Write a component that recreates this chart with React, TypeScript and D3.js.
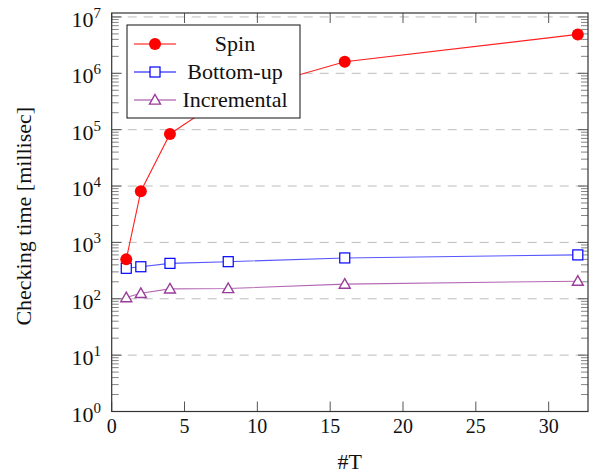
import * as d3 from 'd3';
import React from 'react';

const threads = [1, 2, 4, 8, 16, 32];
const spin = [500, 8100, 84000, 410000, 1600000, 4900000];
const bottomUp = [347, 370, 425, 455, 530, 600];
const incremental = [105, 125, 150, 152, 182, 205];

const xTicks = [0, 5, 10, 15, 20, 25, 30];
const yDecades = [0, 1, 2, 3, 4, 5, 6, 7];

const W = 590;
const H = 476;
const FONT = "'Liberation Serif', 'Times New Roman', Times, serif";

export default function App() {
  const x = d3.scaleLinear().domain([0, 32.7]).range([111.7, 588]);
  const y = d3.scaleLog().domain([1, Math.pow(10, 7.07)]).range([411.5, 13]);
  const [x0, x1] = x.range();
  const [yb, yt] = y.range();

  const line = d3.line<[number, number]>()
    .x((d) => x(d[0]))
    .y((d) => y(d[1]));
  const pts = (vals: number[]) => threads.map((t, i) => [t, vals[i]] as [number, number]);

  const minors: number[] = [];
  yDecades.slice(0, -1).forEach((n) => {
    for (let k = 2; k <= 9; k++) minors.push(k * Math.pow(10, n));
  });

  const tri = (cx: number, cy: number, s = 5.5) =>
    `M${cx},${cy - s} L${cx + s},${cy + s * 0.75} L${cx - s},${cy + s * 0.75} Z`;

  const legendRows = [
    { name: 'Spin', kind: 'circle', color: '#ff0000' },
    { name: 'Bottom-up', kind: 'square', color: '#0000ff' },
    { name: 'Incremental', kind: 'tri', color: '#9a3c9a' },
  ];

  const marker = (kind: string, cx: number, cy: number, key?: number) => {
    if (kind === 'circle') return <circle key={key} cx={cx} cy={cy} r={6} fill="#ff0000" />;
    if (kind === 'square')
      return <rect key={key} x={cx - 5} y={cy - 5} width={10} height={10} fill="white" stroke="#0000ff" strokeWidth={1.2} />;
    return <path key={key} d={tri(cx, cy)} fill="white" stroke="#9a3c9a" strokeWidth={1.4} />;
  };

  return (
    <svg width={W} height={H} style={{ position: 'absolute', left: 0, top: 0, background: 'white', fontFamily: FONT }}>
      {/* grid */}
      {yDecades.slice(1).map((n) => (
        <line key={n} x1={x0} x2={x1} y1={y(Math.pow(10, n))} y2={y(Math.pow(10, n))}
          stroke="#bdbdbd" strokeDasharray="9 7" strokeWidth={1} />
      ))}

      {/* minor y ticks */}
      {minors.map((v) => (
        <g key={v} stroke="#666" strokeWidth={0.8}>
          <line x1={x0} x2={x0 + 7} y1={y(v)} y2={y(v)} />
          <line x1={x1} x2={x1 - 7} y1={y(v)} y2={y(v)} />
        </g>
      ))}
      {yDecades.map((n) => (
        <g key={n} stroke="#555" strokeWidth={1}>
          <line x1={x0} x2={x0 + 10} y1={y(Math.pow(10, n))} y2={y(Math.pow(10, n))} />
          <line x1={x1} x2={x1 - 10} y1={y(Math.pow(10, n))} y2={y(Math.pow(10, n))} />
        </g>
      ))}

      {/* x ticks */}
      {xTicks.map((t) => (
        <g key={t} stroke="#555" strokeWidth={1}>
          <line x1={x(t)} x2={x(t)} y1={yb} y2={yb - 10} />
          <line x1={x(t)} x2={x(t)} y1={yt} y2={yt + 10} />
        </g>
      ))}

      {/* series */}
      <path d={line(pts(incremental)) || ''} fill="none" stroke="#a64ca6" strokeOpacity={0.85} strokeWidth={1.1} />
      {pts(incremental).map((p, i) => marker('tri', x(p[0]), y(p[1]), i))}
      <path d={line(pts(bottomUp)) || ''} fill="none" stroke="#3a3aff" strokeOpacity={0.85} strokeWidth={1.1} />
      {pts(bottomUp).map((p, i) => marker('square', x(p[0]), y(p[1]), i))}
      <path d={line(pts(spin)) || ''} fill="none" stroke="#ff2020" strokeWidth={1.1} />
      {pts(spin).map((p, i) => marker('circle', x(p[0]), y(p[1]), i))}

      {/* axis box */}
      <rect x={x0} y={yt} width={x1 - x0} height={yb - yt} fill="none" stroke="#333" strokeWidth={1.2} />

      {/* tick labels */}
      {xTicks.map((t) => (
        <text key={t} x={x(t)} y={433} textAnchor="middle" fontSize={20} fill="#111">{t}</text>
      ))}
      {yDecades.map((n) => (
        <text key={n} x={101} y={y(Math.pow(10, n)) + 10} textAnchor="end" fontSize={22} fill="#111">
          <tspan>10</tspan>
          <tspan dy={-9} fontSize={15}>{n}</tspan>
        </text>
      ))}

      {/* axis labels */}
      <text transform={`translate(31,${(yt + yb) / 2 + 4}) rotate(-90)`} textAnchor="middle" fontSize={22} fill="#111">
        Checking time [millisec]
      </text>
      <text x={(x0 + x1) / 2} y={469} textAnchor="middle" fontSize={22} fill="#111">#T</text>

      {/* legend */}
      <rect x={127} y={25} width={173} height={93} fill="white" stroke="#111" strokeWidth={1} />
      {legendRows.map((r, i) => {
        const ry = 44 + i * 28;
        return (
          <g key={r.name}>
            <line x1={134} x2={176} y1={ry} y2={ry} stroke={r.color} strokeWidth={1.1} />
            {marker(r.kind, 155, ry)}
            <text x={235} y={ry + 7} textAnchor="middle" fontSize={22} fill="#111">{r.name}</text>
          </g>
        );
      })}
    </svg>
  );
}
